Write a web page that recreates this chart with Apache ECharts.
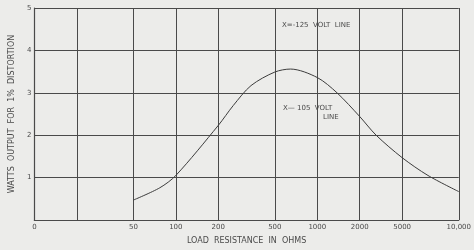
<!DOCTYPE html>
<html>
<head>
<meta charset="utf-8">
<script src="https://cdn.jsdelivr.net/npm/echarts@6/dist/echarts.min.js"></script>
<style>
	html, body { margin: 0; padding: 0; background: #ececea; }
	#chart { width: 474px; height: 250px; }
</style>
</head>
<body>
<div id="chart"></div>
<script>
// tick labels of the load axis and where they sit (in thirds of a grid cell)
const tickLabels = ['0', '50', '100', '200', '500', '1000', '2000', '5000', '10,000'];
const tickOhms = [0, 50, 100, 200, 500, 1000, 2000, 5000, 10000];
const tickPos = [0, 7, 10, 13, 17, 20, 23, 26, 30];
const extraLine = 3; // unlabeled grid line between 0 and 50

// curve: load resistance (ohms) -> watts
const ohms = [50, 77, 100, 200, 255, 340, 500, 647, 1000, 1380, 2000, 2850, 5000, 6860, 10000];
const watts = [0.47, 0.76, 1.05, 2.23, 2.70, 3.17, 3.49, 3.56, 3.36, 3.0, 2.44, 2.0, 1.47, 1.05, 0.67];

// ohms -> position on the chart's (non uniform) log paper
function toPos(r) {
	for (let i = 1; i < tickOhms.length - 1; i++) {
		if (r <= tickOhms[i + 1]) {
			const f = Math.log(r / tickOhms[i]) / Math.log(tickOhms[i + 1] / tickOhms[i]);
			return tickPos[i] + f * (tickPos[i + 1] - tickPos[i]);
		}
	}
	return tickPos[tickPos.length - 1];
}

const slots = Array(31).fill(0).map((it, i) => String(i));
const ink = '#4a4a4a';
const font = 'DejaVu Sans';

const myChart = echarts.init(document.getElementById('chart'));
myChart.setOption({
	backgroundColor: '#ececea',
	animation: false,
	grid: { left: 31, right: 13, top: 8, bottom: 27 },
	xAxis: [
		{ type: 'value', min: 0, max: 30, show: false },
		{
			type: 'category',
			data: slots,
			boundaryGap: false,
			position: 'bottom',
			axisLine: { lineStyle: { color: ink, width: 1.2 } },
			axisTick: { show: false },
			axisLabel: {
				interval: (i) => tickPos.includes(i),
				formatter: (v) => tickLabels[tickPos.indexOf(Number(v))],
				color: ink, fontSize: 7, fontFamily: font, margin: 4,
			},
			splitLine: {
				show: true,
				interval: (i) => tickPos.includes(i) || i === extraLine,
				lineStyle: { color: ink, width: 1 },
			},
			name: 'LOAD  RESISTANCE  IN  OHMS',
			nameLocation: 'middle',
			nameGap: 17,
			nameTextStyle: { color: ink, fontSize: 8, fontFamily: font },
		},
	],
	yAxis: {
		type: 'value', min: 0, max: 5, interval: 1,
		axisLine: { show: true, lineStyle: { color: ink, width: 1.2 } },
		axisTick: { show: false },
		axisLabel: {
			formatter: (v) => (v === 0 ? '' : v),
			color: ink, fontSize: 7, fontFamily: font, margin: 3,
		},
		splitLine: { lineStyle: { color: ink, width: 1 } },
		name: 'WATTS  OUTPUT  FOR  1%  DISTORTION',
		nameLocation: 'middle',
		nameGap: 15,
		nameTextStyle: { color: ink, fontSize: 8, fontFamily: font },
	},
	graphic: [
		{ type: 'text', left: 282, top: 22, style: { text: 'X=-125  VOLT  LINE', fill: ink, font: '7px DejaVu Sans' } },
		{ type: 'text', left: 283, top: 105, style: { text: 'X— 105  VOLT', fill: ink, font: '7px DejaVu Sans' } },
		{ type: 'text', left: 323, top: 114, style: { text: 'LINE', fill: ink, font: '7px DejaVu Sans' } },
	],
	series: [
		{
			type: 'line',
			xAxisIndex: 0,
			data: ohms.map((r, i) => [toPos(r), watts[i]]),
			smooth: 0.3,
			showSymbol: false,
			lineStyle: { color: '#3c3c3c', width: 1 },
		},
	],
});
</script>
</body>
</html>
